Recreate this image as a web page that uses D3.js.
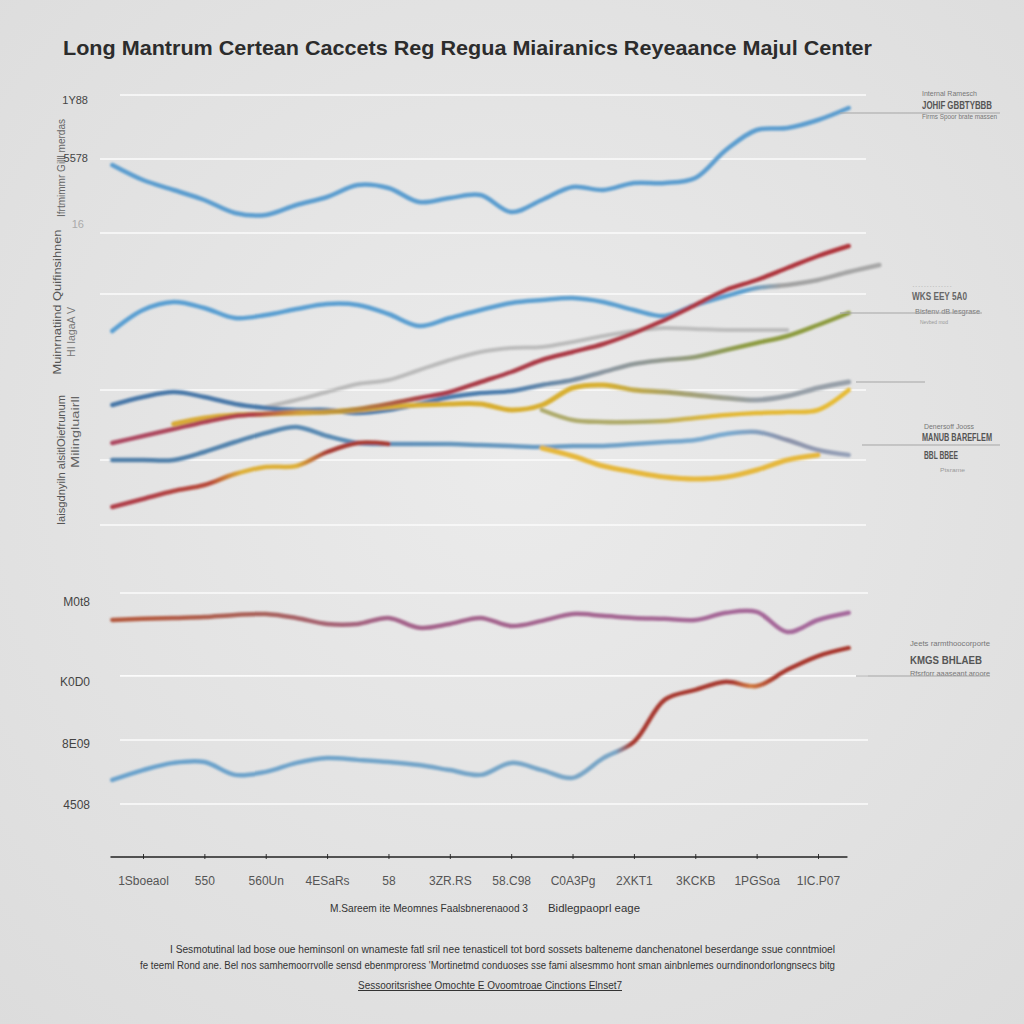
<!DOCTYPE html>
<html><head><meta charset="utf-8">
<script src="https://cdn.jsdelivr.net/npm/d3@7"></script>
<style>
html,body{margin:0;padding:0;background:#e3e3e3;}
svg{display:block;font-family:"Liberation Sans",Arial,sans-serif;}
</style></head>
<body>
<svg id="c" width="1024" height="1024"></svg>
<script>
// ---------- DATA ----------
const xLabels = ["1Sboeaol","550","560Un","4ESaRs","58","3ZR.RS","58.C98","C0A3Pg","2XKT1","3KCKB","1PGSoa","1IC.P07"];
const tGrid = [-0.5,0,0.5,1,1.5,2,2.5,3,3.5,4,4.5,5,5.5,6,6.5,7,7.5,8,8.5,9,9.5,10,10.5,11,11.5,12];

const topTicks = [0,13,27,46.2,58.4,73.2,86];
const topLabelVals = [86,73.2,58.4];
const topLabels = ["1Y88","5578","16"];
const botTicks = [0,21.3,42.7,70.3];
const botLabelVals = [70.3,42.7,21.3,0];
const botLabels = ["M0t8","K0D0","8E09","4508"];

const _ = null;
const seriesA = [72,69,67,65,62.4,62,64,65.6,68,67.4,64.6,65.4,66,62.6,65,67.6,67,68.4,68.4,69.4,75,79,79.4,81,83.4,_];
const seriesB = [38.8,43,44.6,43.4,41.4,42,43.2,44.2,44,42.2,39.8,41.4,43,44.4,45,45.4,44.6,43,41.8,44,45.8,47.4,48,49,50.6,52];
const seriesC = [16.4,17.8,19.2,20.6,21.8,22.2,22.6,22.6,23.2,24.2,25.4,26.6,28.6,30.6,33,34.6,36.2,38.4,41,44,47,49,51.4,53.8,55.8,_];
const seriesD = [24,25.6,26.6,25.6,24.2,23.4,23,23,22.4,23,24.2,25.6,26.4,26.8,28,29,30.6,32.2,33,33.6,35,36.4,37.8,40,42.4,_];
const seriesG = [_,_,_,_,_,23.6,25,26.6,28.2,29,31,33,34.6,35.4,35.6,36.6,37.8,38.8,39.4,39.2,39,39,39,_,_,_];
const seriesJ = [_,_,20.2,21.4,22,22.2,22.4,22.6,23,23.6,24,24.2,24.2,23,24,27.4,28,27,26.6,26,25.4,25,25.8,27.4,28.6,_];
const seriesK = [_,_,_,_,_,_,_,_,_,_,_,_,_,_,23,21,20.6,20.6,20.8,21.4,22,22.4,22.6,23,27,_];
const seriesE = [13,13,13,14.6,16.6,18.4,19.6,17.8,16.4,16.2,16.2,16.2,16,15.8,15.6,15.8,15.8,16.2,16.6,17,18.2,18.6,17,15,14,_];
const seriesL = [_,_,_,_,_,_,_,_,_,_,_,_,_,_,15.4,13.8,11.8,10.6,9.6,9.2,9.6,11,13,14,_,_];
const seriesI = [3.6,5.2,6.8,8,10.2,11.6,11.8,14.6,16.4,16.2,_,_,_,_,_,_,_,_,_,_,_,_,_,_,_,_];
const seriesM = [61.3,61.7,62,62.3,63,63.3,62,60,60,62,58.7,60,62,59.3,61,63.3,62.7,62,61.7,61.3,63.7,64,57.3,61.3,63.7,_];
const seriesN = [8,11.3,13.7,14,9.7,10.7,13.7,15.3,14.7,14,13,11.3,9.7,13.7,11.3,8.7,15.3,20.7,34.7,38,40.7,39.3,44.7,49.3,52,_];

// ---------- STYLE ----------
const styles = [
  {id:"G", data:seriesG, panel:"top", w:4, op:0.75, stops:[[0,"#a9a9a9"],[12,"#b0b0b0"]]},
  {id:"A", data:seriesA, panel:"top", w:4.5, op:1, stops:[[0,"#5c9dcf"],[12,"#5c9dcf"]]},
  {id:"B", data:seriesB, panel:"top", w:4.5, op:1, stops:[[0,"#5a9fd2"],[9.8,"#5c9fcf"],[10.4,"#a2a2a2"],[12,"#a8a8a8"]]},
  {id:"E", data:seriesE, panel:"top", w:4.5, op:1, stops:[[0,"#4f7ea8"],[7,"#6b9dc4"],[9.5,"#7aaad0"],[10.5,"#8d93aa"],[12,"#9aa8c0"]]},
  {id:"L", data:seriesL, panel:"top", w:5, op:1, stops:[[0,"#e6b83c"],[12,"#e6b83c"]]},
  {id:"D", data:seriesD, panel:"top", w:4.5, op:1, stops:[[0,"#4a78a8"],[6,"#4f7fae"],[7.5,"#8d98a2"],[8.5,"#949a90"],[9.8,"#8e9c44"],[12,"#8c9a3c"]]},
  {id:"K", data:seriesK, panel:"top", w:4.5, op:1, stops:[[0,"#a8a870"],[8.2,"#b0ac6c"],[9.3,"#e2b838"],[12,"#e8bc36"]]},
  {id:"J", data:seriesJ, panel:"top", w:5, op:1, stops:[[0,"#d8aa38"],[7.5,"#d8b030"],[8.6,"#a8a268"],[10,"#98a0a8"],[12,"#98a0aa"]]},
  {id:"C", data:seriesC, panel:"top", w:4.5, op:1, stops:[[0,"#ad4a62"],[1.8,"#b04048"],[2.6,"#cfa03a"],[3.3,"#b8903a"],[4.6,"#aa3e4c"],[12,"#b0343a"]]},
  {id:"I", data:seriesI, panel:"top", w:4.5, op:1, stops:[[0,"#b0404a"],[1.1,"#b84a38"],[1.6,"#deb038"],[2.5,"#deb038"],[3.0,"#a83c36"],[12,"#a83c36"]]},
  {id:"M", data:seriesM, panel:"bot", w:4.5, op:1, stops:[[0,"#b45a40"],[2,"#a8625c"],[4,"#a4648a"],[12,"#a66a9e"]]},
  {id:"N", data:seriesN, panel:"bot", w:4.5, op:1, stops:[[0,"#6aa2cc"],[7.7,"#7aa6c6"],[7.95,"#a83a30"],[9.6,"#a83a30"],[9.9,"#d07a40"],[10.3,"#a8382e"],[12,"#a8382e"]]}
];

// ---------- SCALES ----------
const svg = d3.select("#c");
const x = d3.scaleLinear().domain([0, 11]).range([143, 818]);
const yTop = d3.scaleLinear().domain([0, 86]).range([525, 95]);
const yBot = d3.scaleLinear().domain([0, 70.3]).range([804, 593]);

// background
const defs = svg.append("defs");
const bg = defs.append("radialGradient").attr("id","bg").attr("cx","50%").attr("cy","45%").attr("r","75%");
bg.append("stop").attr("offset","0%").attr("stop-color","#ebebeb");
bg.append("stop").attr("offset","100%").attr("stop-color","#dcdcdc");
svg.append("rect").attr("width",1024).attr("height",1024).attr("fill","url(#bg)");
const blur = defs.append("filter").attr("id","soft").attr("x","-5%").attr("y","-20%").attr("width","110%").attr("height","140%");
blur.append("feGaussianBlur").attr("stdDeviation",0.8);

// title
svg.append("text").attr("x",63).attr("y",55)
  .attr("textLength",809).attr("lengthAdjust","spacingAndGlyphs")
  .attr("font-size",21).attr("font-weight","bold").attr("fill","#2c2c2c")
  .text("Long Mantrum Certean Caccets Reg  Regua Miairanics Reyeaance Majul Center");

// gridlines
const grid = svg.append("g");
grid.selectAll("line.t").data(topTicks).join("line")
  .attr("x1",(d,i)=> i===topTicks.length-1 ? 120 : 100).attr("x2",866)
  .attr("y1",d=>yTop(d)).attr("y2",d=>yTop(d))
  .attr("stroke","#fbfbfb").attr("stroke-width",1.6);
grid.selectAll("line.b").data(botTicks).join("line")
  .attr("x1",120).attr("x2",868)
  .attr("y1",d=>yBot(d)).attr("y2",d=>yBot(d))
  .attr("stroke","#fbfbfb").attr("stroke-width",1.6);

// rotated y titles
const rot = [
  {x:62, y:168, t:"Ifrtmimmr Gilll merdas", c:"#666", w:98, s:11},
  {x:58, y:302, t:"Muinrnatiind Quifinsihnen", c:"#555", w:145, s:11},
  {x:72, y:332, t:"HI lagaA V", c:"#777", w:50, s:10},
  {x:62, y:460, t:"Iaisgdnyiln alsitlOiefrunum", c:"#555", w:130, s:11},
  {x:76, y:432, t:"Milingluairll", c:"#666", w:72, s:11}
];
svg.append("g").selectAll("text").data(rot).join("text")
  .attr("transform",d=>`translate(${d.x},${d.y}) rotate(-90)`)
  .attr("text-anchor","middle").attr("dominant-baseline","middle")
  .attr("font-size",d=>d.s).attr("fill",d=>d.c)
  .attr("textLength",d=>d.w).attr("lengthAdjust","spacingAndGlyphs").text(d=>d.t);

// y labels
svg.append("g").selectAll("text").data(topLabelVals).join("text")
  .attr("x",(d,i)=> i===2 ? 84 : 88).attr("y",(d,i)=>yTop(d)+ (i===0?6:(i===1?0:-8)))
  .attr("text-anchor","end").attr("dominant-baseline","middle")
  .attr("font-size",11).attr("fill",(d,i)=> i===2 ? "#aaa" : "#444")
  .text((d,i)=>topLabels[i]);
svg.append("g").selectAll("text").data(botLabelVals).join("text")
  .attr("x",90).attr("y",(d,i)=>yBot(d)+[10,7,5,2][i])
  .attr("text-anchor","end").attr("dominant-baseline","middle")
  .attr("font-size",12).attr("fill","#444")
  .text((d,i)=>botLabels[i]);

// lines
const lineGen = (ys) => d3.line()
  .defined(d=>d.v!==null)
  .x(d=>x(d.t)).y(d=>ys(d.v))
  .curve(d3.curveCatmullRom.alpha(0.5));
const lg = svg.append("g").attr("filter","url(#soft)");
styles.forEach(s=>{
  const gid = "g"+s.id;
  const gr = defs.append("linearGradient").attr("id",gid).attr("gradientUnits","userSpaceOnUse")
    .attr("x1",0).attr("x2",1024).attr("y1",0).attr("y2",0);
  s.stops.forEach(([t,c])=>gr.append("stop").attr("offset",Math.max(0,Math.min(1,x(t)/1024))).attr("stop-color",c));
  const pts = tGrid.map((t,i)=>({t, v:s.data[i]}));
  lg.append("path").datum(pts)
    .attr("d",lineGen(s.panel==="top"?yTop:yBot))
    .attr("fill","none").attr("stroke",`url(#${gid})`)
    .attr("stroke-width",s.w).attr("stroke-opacity",s.op)
    .attr("stroke-linecap","round").attr("stroke-linejoin","round");
});

// x axis
const axisY = 857;
const ax = svg.append("g").attr("transform",`translate(0,${axisY})`)
  .call(d3.axisBottom(x).tickValues(d3.range(0, xLabels.length)).tickFormat(i=>xLabels[i]).tickSize(3).tickPadding(16));
ax.select(".domain").remove();
ax.append("line").attr("x1",x(-0.53)).attr("x2",x(11.48)).attr("stroke","#222").attr("stroke-width",1.6);
ax.selectAll(".tick line").attr("stroke","#333").attr("y1",-3).attr("y2",2);
ax.selectAll(".tick text").attr("font-size",12).attr("fill","#555").attr("font-family","Liberation Sans, Arial, sans-serif");

svg.append("text").attr("x",330).attr("y",912).attr("font-size",11).attr("fill","#333")
  .attr("textLength",198).attr("lengthAdjust","spacingAndGlyphs")
  .text("M.Sareem ite Meomnes Faalsbnerenaood 3");
svg.append("text").attr("x",548).attr("y",912).attr("font-size",11).attr("fill","#333")
  .attr("textLength",92).attr("lengthAdjust","spacingAndGlyphs")
  .text("Bidlegpaoprl eage");

// right annotations
const ann = svg.append("g").attr("fill","#555");
const leader = [[840,113,1000],[840,313,982],[856,382,925],[862,445,1000],[856,676,990]];
svg.append("g").selectAll("line").data(leader).join("line")
  .attr("x1",d=>d[0]).attr("x2",d=>d[2]).attr("y1",d=>d[1]).attr("y2",d=>d[1])
  .attr("stroke","#a5a5a5").attr("stroke-width",1);
const annText = [
  {x:922,y:96,s:7,t:"Internal Ramesch",c:"#777",w:55},
  {x:922,y:109,s:10,t:"JOHIF GBBTYBBB",c:"#555",w:70,b:true},
  {x:922,y:119,s:7,t:"Firms Spoor brate massen",c:"#777",w:75},
  {x:912,y:287,s:7,t:"..............",c:"#bbb",w:40},
  {x:912,y:300,s:10,t:"WKS EEY 5A0",c:"#666",w:55,b:true},
  {x:915,y:314,s:7,t:"Bisfenv dB lesgrase",c:"#777",w:65},
  {x:920,y:324,s:6,t:"Nevbed mod",c:"#999",w:28},
  {x:924,y:429,s:7,t:"Denersoff Jooss",c:"#777",w:50},
  {x:922,y:441,s:10,t:"MANUB BAREFLEM",c:"#555",w:70,b:true},
  {x:924,y:459,s:10,t:"BBL BBEE",c:"#555",w:34,b:true},
  {x:940,y:472,s:6,t:"Ptsrame",c:"#999",w:25},
  {x:910,y:646,s:7,t:"Jeets rarmthoocorporte",c:"#777",w:80},
  {x:910,y:664,s:11,t:"KMGS BHLAEB",c:"#555",w:72,b:true},
  {x:910,y:676,s:7,t:"Rfsrforr aaaseant aroore",c:"#777",w:80}
];
ann.selectAll("text").data(annText).join("text")
  .attr("x",d=>d.x).attr("y",d=>d.y).attr("font-size",d=>d.s).attr("fill",d=>d.c)
  .attr("font-weight",d=>d.b?"bold":"normal")
  .attr("textLength",d=>d.w).attr("lengthAdjust","spacingAndGlyphs").text(d=>d.t);

// footer
const foot = svg.append("g").attr("fill","#333").attr("font-size",10);
foot.append("text").attr("x",170).attr("y",953).attr("textLength",665).attr("lengthAdjust","spacingAndGlyphs")
  .text("I Sesmotutinal lad bose oue heminsonl on wnameste fatl sril nee tenasticell tot bord sossets balteneme danchenatonel beserdange ssue conntmioel");
foot.append("text").attr("x",140).attr("y",969).attr("textLength",695).attr("lengthAdjust","spacingAndGlyphs")
  .text("fe teeml Rond ane. Bel nos samhemoorrvolle sensd ebenmproress 'Mortinetmd conduoses sse fami alsesmmo hont sman ainbnlemes ourndinondorlongnsecs bitg");
foot.append("text").attr("x",358).attr("y",989).attr("textLength",264).attr("lengthAdjust","spacingAndGlyphs")
  .attr("text-decoration","underline")
  .text("Sessooritsrishee Omochte E Ovoomtroae Cinctions Elnset7");
</script>
</body></html>
